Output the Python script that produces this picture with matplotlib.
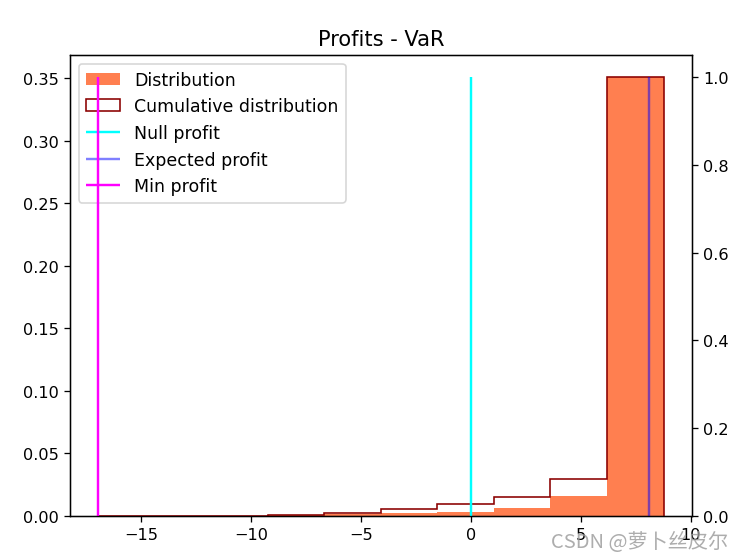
import numpy as np
import matplotlib
matplotlib.use("Agg")
import matplotlib.pyplot as plt

# Bordes de los bins (10 bins)
bin_edges = np.linspace(-16.96, 8.77, 11)

# Densidad de cada bin (eje izquierdo)
density = [0.0001, 0.0001, 0.0002, 0.0005, 0.0018, 0.0027, 0.0035, 0.0062, 0.016, 0.351]

# Probabilidad de cada bin (para la distribucion acumulada, eje derecho)
prob = [0.0001, 0.0001, 0.0002, 0.0015, 0.005, 0.009, 0.012, 0.015, 0.041, 0.9162]

null_profit = 0.0
expected_profit = 8.11
min_profit = -16.96

centers = (bin_edges[:-1] + bin_edges[1:]) / 2

fig, ax1 = plt.subplots(figsize=(6.4, 4.823), dpi=116.1)
fig.subplots_adjust(left=0.094, right=0.931, top=0.9, bottom=0.077)

ax1.hist(centers, bins=bin_edges, weights=density, color='coral', label='Distribution')
ax1.set_title('Profits - VaR', fontsize=13)

ax2 = ax1.twinx()
ax2.hist(centers, bins=bin_edges, weights=prob, cumulative=True, histtype='step',
         color='darkred', linewidth=1, label='Cumulative distribution')
ax2.vlines(null_profit, 0, 1, colors='cyan', label='Null profit')
ax2.vlines(expected_profit, 0, 1, colors='blue', alpha=0.5, label='Expected profit')
ax2.vlines(min_profit, 0, 1, colors='magenta', label='Min profit')

h1, l1 = ax1.get_legend_handles_labels()
h2, l2 = ax2.get_legend_handles_labels()
ax1.legend(h1 + h2, l1 + l2, loc='upper left', fontsize=10.8)

# marca de agua
fig.text(0.98, 0.012, 'CSDN @萝卜丝皮尔', ha='right', va='bottom', fontsize=12.5,
         color='#999999', alpha=0.8, family=['Noto Sans CJK SC', 'DejaVu Sans'])

plt.savefig('out.png')
